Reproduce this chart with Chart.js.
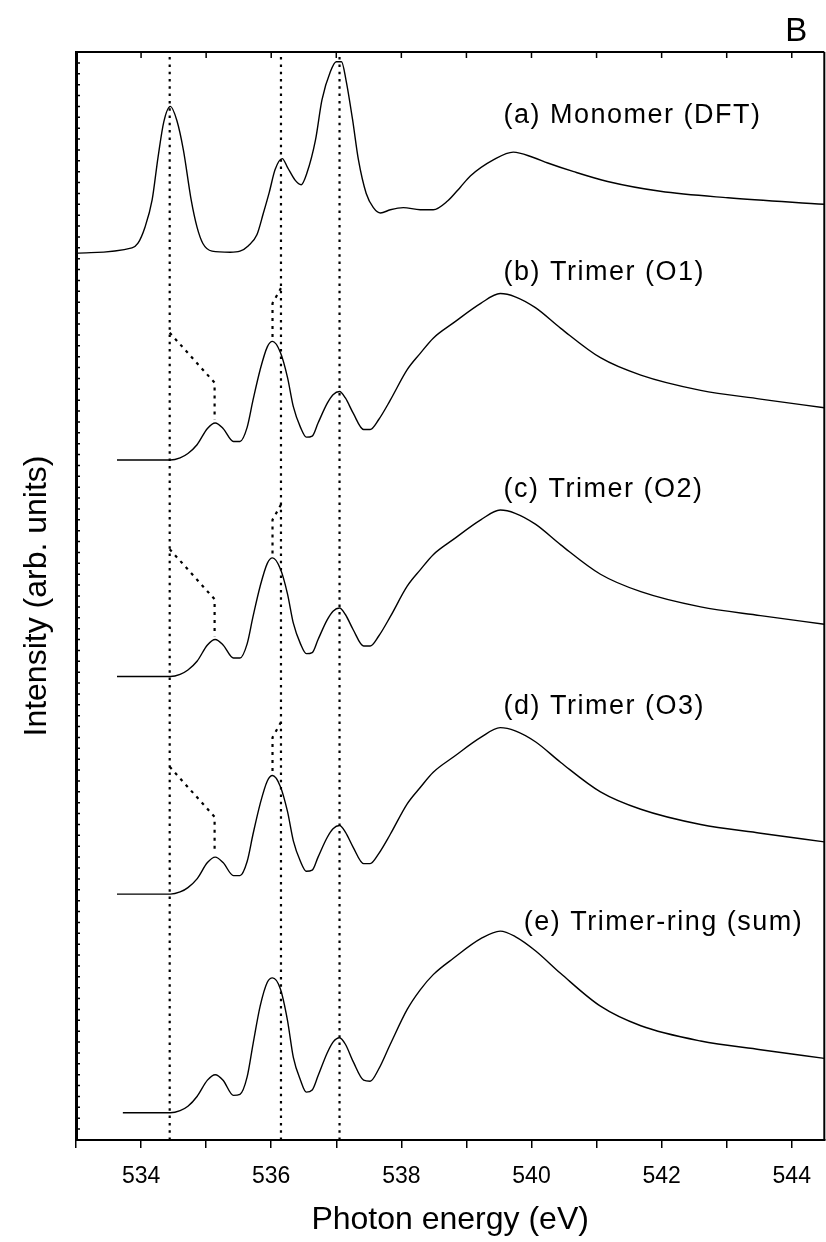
<!DOCTYPE html>
<html>
<head>
<meta charset="utf-8">
<script src="https://cdn.jsdelivr.net/npm/chart.js@4.4.1/dist/chart.umd.min.js"></script>
<style>
  html, body { margin: 0; padding: 0; background: #fff; }
</style>
</head>
<body>
<canvas id="myChart" width="826" height="1242"></canvas>
<script>
// --- DATA ---
// (a) monomer spectrum
const energyA = [533.00, 533.86, 533.95, 534.06, 534.17, 534.26, 534.35, 534.45, 534.55, 534.65,
    534.77, 534.86, 534.95, 535.09, 535.37, 535.52, 535.65, 535.78, 535.88, 535.97,
    536.06, 536.17, 536.25, 536.37, 536.46, 536.55, 536.68, 536.78, 536.91, 537.00,
    537.08, 537.15, 537.25, 537.34, 537.46, 537.57, 537.68, 537.83, 538.03, 538.29,
    538.49, 538.71, 538.91, 539.06, 539.42, 539.72, 540.03, 540.25, 540.65, 541.17,
    541.98, 543.02, 544.50];
const intensityA = [81.5, 82.0, 82.4, 83.9, 86.4, 90.3, 93.6, 95.0, 93.7, 91.0,
    86.4, 83.9, 82.4, 81.7, 81.6, 81.7, 82.2, 83.2, 85.2, 87.1,
    89.2, 90.2, 89.4, 88.2, 87.8, 88.9, 91.9, 95.6, 98.2, 99.1,
    99.1, 97.4, 93.8, 90.1, 87.0, 85.7, 85.2, 85.5, 85.7, 85.5,
    85.5, 86.3, 87.6, 88.6, 90.1, 90.8, 90.3, 89.8, 89.0, 88.1,
    87.2, 86.6, 86.0];

// (b)-(d) trimer spectra share one energy grid
const energyTrimer = [533.63, 534.45, 534.60, 534.72, 534.86, 535.02, 535.14, 535.26, 535.42, 535.52,
    535.63, 535.72, 535.83, 535.94, 536.02, 536.14, 536.25, 536.34, 536.45, 536.54,
    536.63, 536.72, 536.86, 536.95, 537.05, 537.14, 537.26, 537.42, 537.52, 537.65,
    537.83, 538.09, 538.29, 538.49, 538.80, 539.22, 539.52, 539.75, 540.06, 540.45,
    541.06, 541.68, 542.60, 543.52, 544.50];
const intensityB = [62.5, 62.5, 62.7, 63.1, 63.9, 65.4, 65.9, 65.4, 64.2, 64.2,
    65.5, 68.0, 70.8, 72.9, 73.4, 72.4, 70.1, 67.4, 65.5, 64.6,
    64.7, 65.9, 67.7, 68.5, 68.8, 68.2, 66.8, 65.3, 65.3, 66.2,
    68.0, 70.8, 72.3, 73.7, 75.1, 76.9, 77.8, 77.5, 76.5, 74.6,
    71.9, 70.3, 68.9, 68.1, 67.3];
const intensityC = [42.6, 42.6, 42.8, 43.2, 44.0, 45.5, 46.0, 45.5, 44.3, 44.3,
    45.6, 48.1, 50.9, 53.0, 53.5, 52.5, 50.2, 47.5, 45.6, 44.7,
    44.8, 46.0, 47.8, 48.6, 48.9, 48.3, 46.9, 45.4, 45.4, 46.3,
    48.1, 50.9, 52.4, 53.8, 55.2, 57.0, 57.9, 57.6, 56.6, 54.7,
    52.0, 50.4, 49.0, 48.2, 47.4];
const intensityD = [22.6, 22.6, 22.8, 23.2, 24.0, 25.5, 26.0, 25.5, 24.3, 24.3,
    25.6, 28.1, 30.9, 33.0, 33.5, 32.5, 30.2, 27.5, 25.6, 24.7,
    24.8, 26.0, 27.8, 28.6, 28.9, 28.3, 26.9, 25.4, 25.4, 26.3,
    28.1, 30.9, 32.4, 33.8, 35.2, 37.0, 37.9, 37.6, 36.6, 34.7,
    32.0, 30.4, 29.0, 28.2, 27.4];

// (e) trimer-ring sum
const energyE = [533.72, 534.45, 534.60, 534.72, 534.86, 535.02, 535.14, 535.26, 535.42, 535.52,
    535.63, 535.72, 535.83, 535.94, 536.02, 536.14, 536.25, 536.34, 536.45, 536.54,
    536.63, 536.72, 536.86, 536.95, 537.05, 537.14, 537.26, 537.42, 537.52, 537.65,
    537.83, 538.09, 538.29, 538.49, 538.80, 539.22, 539.52, 539.75, 540.06, 540.45,
    541.06, 541.68, 542.60, 543.52, 544.50];
const intensityE = [2.5, 2.5, 2.7, 3.1, 4.0, 5.5, 6.0, 5.5, 4.1, 4.2,
    5.8, 8.8, 12.3, 14.5, 14.9, 13.9, 11.0, 7.6, 5.5, 4.4,
    4.6, 5.9, 8.0, 9.0, 9.4, 8.8, 7.2, 5.5, 5.4, 6.5,
    8.8, 12.0, 13.8, 15.2, 16.7, 18.5, 19.2, 18.7, 17.4, 15.3,
    12.3, 10.5, 9.1, 8.3, 7.5];

// dotted reference lines at the monomer peaks
const guideEnergies = [534.44, 536.15, 537.05];

// dashed peak-shift markers for (b), (c), (d)
const shiftLowX = [534.44, 535.13, 535.13];
const shiftLowB = [74.2, 69.6, 66.2];
const shiftLowC = [54.3, 49.7, 46.3];
const shiftLowD = [34.3, 29.7, 26.3];
const shiftMidX = [536.15, 536.02, 536.02];
const shiftMidB = [78.3, 76.9, 73.7];
const shiftMidC = [58.4, 57.0, 53.8];
const shiftMidD = [38.4, 37.0, 33.8];

const curveLabels = ['(a) Monomer (DFT)', '(b) Trimer (O1)', '(c) Trimer (O2)', '(d) Trimer (O3)', '(e) Trimer-ring (sum)'];
const labelEnergy = [539.57, 539.57, 539.57, 539.57, 539.88];
const labelLevel = [94.2, 79.7, 59.8, 39.8, 20.0];

// --- HELPERS ---
const FONT = '"Liberation Sans", Arial, sans-serif';

function pts(xs, ys) {
    return xs.map((x, i) => ({ x: x, y: ys[i] }));
}

function curve(xs, ys) {
    return { data: pts(xs, ys), borderColor: '#000', borderWidth: 1.4, pointRadius: 0,
        cubicInterpolationMode: 'monotone', fill: false };
}

function dotted(xs, ys, dash) {
    return { data: pts(xs, ys), borderColor: '#000', borderWidth: 2.2, borderDash: dash, pointRadius: 0, tension: 0, fill: false };
}

let datasets = [];
guideEnergies.forEach(e => datasets.push(dotted([e, e], [0, 100], [2.5, 4.8])));
datasets.push(dotted(shiftLowX, shiftLowB, [3, 5]));
datasets.push(dotted(shiftLowX, shiftLowC, [3, 5]));
datasets.push(dotted(shiftLowX, shiftLowD, [3, 5]));
datasets.push(dotted(shiftMidX, shiftMidB, [3, 5]));
datasets.push(dotted(shiftMidX, shiftMidC, [3, 5]));
datasets.push(dotted(shiftMidX, shiftMidD, [3, 5]));
datasets.push(curve(energyA, intensityA));
datasets.push(curve(energyTrimer, intensityB));
datasets.push(curve(energyTrimer, intensityC));
datasets.push(curve(energyTrimer, intensityD));
datasets.push(curve(energyE, intensityE));

// frame, inward ticks and text labels
const framePlugin = {
    id: 'frame',
    afterDraw(chart) {
        const { ctx, chartArea: a, scales: { x, y } } = chart;
        ctx.save();
        ctx.strokeStyle = '#000';
        ctx.lineWidth = 2;
        ctx.beginPath();
        ctx.moveTo(a.left, a.top);
        ctx.lineTo(a.right, a.top);
        ctx.moveTo(a.right, a.top);
        ctx.lineTo(a.right, a.bottom);
        ctx.stroke();

        // top ticks pointing inward
        ctx.lineWidth = 1.5;
        ctx.beginPath();
        for (let v = 534; v <= 544; v++) {
            const px = x.getPixelForValue(v);
            ctx.moveTo(px, a.top);
            ctx.lineTo(px, a.top + 6);
        }
        // left ticks pointing inward
        for (let v = 0; v <= 100; v++) {
            const py = y.getPixelForValue(v);
            ctx.moveTo(a.left, py);
            ctx.lineTo(a.left + 4, py);
        }
        ctx.stroke();

        ctx.fillStyle = '#000';
        ctx.textBaseline = 'middle';
        ctx.textAlign = 'left';
        ctx.font = '27px ' + FONT;
        ctx.letterSpacing = '1.5px';
        curveLabels.forEach((t, i) => {
            ctx.fillText(t, x.getPixelForValue(labelEnergy[i]), y.getPixelForValue(labelLevel[i]));
        });
        ctx.letterSpacing = '0px';
        ctx.textAlign = 'right';
        ctx.font = '33px ' + FONT;
        ctx.fillText('B', a.right - 17, 32);
        ctx.restore();
    }
};

const ctx = document.getElementById('myChart').getContext('2d');
const spectraChart = new Chart(ctx, {
    type: 'line',
    data: { datasets: datasets },
    options: {
        responsive: false,
        animation: false,
        devicePixelRatio: 1,
        layout: { padding: { top: 52, right: 1, bottom: 0, left: 0 } },
        plugins: { legend: { display: false }, tooltip: { enabled: false } },
        scales: {
            x: {
                type: 'linear',
                min: 533,
                max: 544.5,
                afterFit(s) { s.height = 102; },
                ticks: {
                    stepSize: 1,
                    includeBounds: false,
                    autoSkip: false,
                    maxRotation: 0,
                    padding: 15,
                    color: '#000',
                    font: { family: FONT, size: 23 },
                    callback: v => (v % 2 === 0 ? String(v) : '')
                },
                grid: { display: true, drawOnChartArea: false, drawTicks: true, tickLength: 8, color: '#000', lineWidth: 1.5 },
                border: { display: true, color: '#000', width: 2 },
                title: {
                    display: true,
                    text: 'Photon energy (eV)',
                    color: '#000',
                    font: { family: FONT, size: 32 },
                    padding: { top: 0, bottom: 3 }
                }
            },
            y: {
                type: 'linear',
                min: 0,
                max: 100,
                afterFit(s) { s.width = 76; },
                ticks: { display: false },
                grid: { display: false },
                border: { display: true, color: '#000', width: 3 },
                title: {
                    display: true,
                    text: 'Intensity (arb. units)',
                    color: '#000',
                    font: { family: FONT, size: 32 },
                    padding: { top: 18, bottom: 0 }
                }
            }
        }
    },
    plugins: [framePlugin]
});
</script>
</body>
</html>
